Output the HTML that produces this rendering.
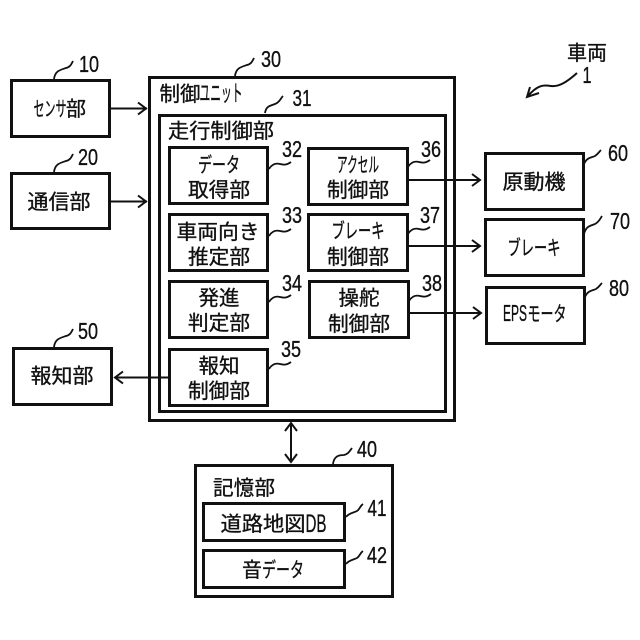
<!DOCTYPE html>
<html><head><meta charset="utf-8"><style>
html,body{margin:0;padding:0;background:#fff;width:640px;height:640px;overflow:hidden}
svg{display:block}
text{font-family:"Liberation Sans","Noto Sans CJK JP",sans-serif;fill:#111;stroke:#111;stroke-width:.35px}
.t{font-size:20.5px;text-anchor:middle}
.n{font-size:23px;text-anchor:middle}
rect{fill:none;stroke:#111;stroke-width:3}
.c{fill:none;stroke:#111;stroke-width:1.8}
.a{fill:none;stroke:#111;stroke-width:2}
</style></head><body>
<svg width="640" height="640" viewBox="0 0 640 640" xmlns="http://www.w3.org/2000/svg">
<rect x="11.5" y="80.5" width="98" height="56"/>
<rect x="11.5" y="173.5" width="98" height="55"/>
<rect x="149.500" y="77.500" width="305" height="343"/>
<rect x="159.500" y="115.500" width="286" height="296"/>
<rect x="169.500" y="147.500" width="98" height="56"/>
<rect x="169.500" y="214.500" width="98" height="56"/>
<rect x="169.500" y="281.500" width="98" height="56"/>
<rect x="169.500" y="349.500" width="98" height="56"/>
<rect x="308.500" y="148.500" width="99" height="56"/>
<rect x="308.500" y="214.500" width="99" height="56"/>
<rect x="309.500" y="281.500" width="99" height="56"/>
<rect x="485.500" y="153.500" width="98" height="56"/>
<rect x="485.500" y="219.500" width="98" height="56"/>
<rect x="486.500" y="287.500" width="98" height="56"/>
<rect x="13.500" y="348.500" width="98" height="56"/>
<rect x="195.500" y="465.500" width="197" height="131"/>
<rect x="203.500" y="503.500" width="141" height="37"/>
<rect x="203.500" y="550.500" width="141" height="37"/>

<g class="a">
<path d="M110 108.500H147M138 102.500l8 6-8 6"/>
<path d="M110 201.500H147M138 195.500l8 6-8 6"/>
<path d="M407 180H480M472 174l8 6-8 6"/>
<path d="M407 246H480M472 240l8 6-8 6"/>
<path d="M409 313H481M473 307l8 6-8 6"/>
<path d="M168 377.500H115M123 371.500l-8 6 8 6"/>
<path d="M291 424V460M285 431l6-8 6 8M285 454l6 8 6-8"/>
<path d="M577 73C567 82 559 87 551 86C544 85 538 84 527 97M530 87L527 97L539 93"/>
</g>

<g class="c">
<path d="M54 79c1-8 6-9 12-11c4-1 5-3 7-7"/>
<path d="M54 172c1-8 6-9 12-11c4-1 5-3 7-7"/>
<path d="M235 76c1-8 6-9 12-11c4-1 5-3 7-7"/>
<path d="M265 113c1-7 5-7 10-9c5-2 5-5 8-8"/>
<path d="M269 169c3-5 7-6 11-5c4 1 7 1 11-2"/>
<path d="M269 236c3-5 7-6 11-5c4 1 7 1 11-2"/>
<path d="M269 302c3-5 7-6 11-5c4 1 7 1 11-2"/>
<path d="M269 369c3-5 7-6 11-5c4 1 7 1 11-2"/>
<path d="M408 167c3-5 7-6 11-5c4 1 7 1 11-2"/>
<path d="M408 234c3-5 7-6 11-5c4 1 7 1 11-2"/>
<path d="M409 301c3-5 7-6 11-5c4 1 7 1 11-2"/>
<path d="M584 164c3-7 7-6 11-8c3-2 4-4 6-6"/>
<path d="M584 234c2-8 6-8 11-10c4-2 5-5 7-8"/>
<path d="M585 297c3-7 7-6 11-8c3-2 4-4 6-6"/>
<path d="M54 347c1-8 6-9 12-11c4-1 5-3 7-7"/>
<path d="M333 464c1-8 6-9 11-9c4-1 5-3 8-7"/>
<path d="M346 517c3-4 7-4 11-6c3-2 3-5 6-7"/>
<path d="M346 564c3-4 7-4 11-6c3-2 3-5 6-7"/>
</g>

<g class="n">
<text x="89" y="72" textLength="20" lengthAdjust="spacingAndGlyphs">10</text>
<text x="88" y="165" textLength="20" lengthAdjust="spacingAndGlyphs">20</text>
<text x="271" y="67" textLength="20" lengthAdjust="spacingAndGlyphs">30</text>
<text x="302" y="106" textLength="19" lengthAdjust="spacingAndGlyphs">31</text>
<text x="292" y="157" textLength="20" lengthAdjust="spacingAndGlyphs">32</text>
<text x="292" y="223" textLength="20" lengthAdjust="spacingAndGlyphs">33</text>
<text x="292" y="291" textLength="20" lengthAdjust="spacingAndGlyphs">34</text>
<text x="291" y="357" textLength="20" lengthAdjust="spacingAndGlyphs">35</text>
<text x="431" y="157" textLength="20" lengthAdjust="spacingAndGlyphs">36</text>
<text x="430" y="223" textLength="20" lengthAdjust="spacingAndGlyphs">37</text>
<text x="432" y="291" textLength="20" lengthAdjust="spacingAndGlyphs">38</text>
<text x="618" y="161" textLength="20" lengthAdjust="spacingAndGlyphs">60</text>
<text x="620" y="229" textLength="20" lengthAdjust="spacingAndGlyphs">70</text>
<text x="619" y="296" textLength="20" lengthAdjust="spacingAndGlyphs">80</text>
<text x="88" y="339" textLength="20" lengthAdjust="spacingAndGlyphs">50</text>
<text x="367" y="457" textLength="20" lengthAdjust="spacingAndGlyphs">40</text>
<text x="377" y="516" textLength="19" lengthAdjust="spacingAndGlyphs">41</text>
<text x="377" y="563" textLength="20" lengthAdjust="spacingAndGlyphs">42</text>
<text x="587" y="83" textLength="9" lengthAdjust="spacingAndGlyphs">1</text>
</g>

<g class="t">
<text x="587" y="60" textLength="40" lengthAdjust="spacingAndGlyphs">車両</text>
<text x="50" y="116" textLength="33" lengthAdjust="spacingAndGlyphs">センサ</text>
<text x="76" y="116" textLength="20" lengthAdjust="spacingAndGlyphs">部</text>
<text x="59" y="209" textLength="63" lengthAdjust="spacingAndGlyphs">通信部</text>
<text x="180" y="101" textLength="41" lengthAdjust="spacingAndGlyphs">制御</text>
<text x="221" y="101" textLength="43" lengthAdjust="spacingAndGlyphs" font-size="23">ユニット</text>
<text x="221" y="138" textLength="106" lengthAdjust="spacingAndGlyphs">走行制御部</text>
<text x="219" y="172" textLength="42" lengthAdjust="spacingAndGlyphs">データ</text>
<text x="219" y="197" textLength="62" lengthAdjust="spacingAndGlyphs">取得部</text>
<text x="218" y="239" textLength="83" lengthAdjust="spacingAndGlyphs">車両向き</text>
<text x="219" y="264" textLength="62" lengthAdjust="spacingAndGlyphs">推定部</text>
<text x="219" y="305" textLength="41" lengthAdjust="spacingAndGlyphs">発進</text>
<text x="219" y="330" textLength="62" lengthAdjust="spacingAndGlyphs">判定部</text>
<text x="219" y="373" textLength="41" lengthAdjust="spacingAndGlyphs">報知</text>
<text x="219" y="398" textLength="62" lengthAdjust="spacingAndGlyphs">制御部</text>
<text x="358" y="172" textLength="42" lengthAdjust="spacingAndGlyphs">アクセル</text>
<text x="358" y="197" textLength="62" lengthAdjust="spacingAndGlyphs">制御部</text>
<text x="358" y="238" textLength="53" lengthAdjust="spacingAndGlyphs">ブレーキ</text>
<text x="358" y="264" textLength="62" lengthAdjust="spacingAndGlyphs">制御部</text>
<text x="359" y="305" textLength="41" lengthAdjust="spacingAndGlyphs">操舵</text>
<text x="359" y="331" textLength="62" lengthAdjust="spacingAndGlyphs">制御部</text>
<text x="534" y="189" textLength="63" lengthAdjust="spacingAndGlyphs">原動機</text>
<text x="534" y="255" textLength="53" lengthAdjust="spacingAndGlyphs">ブレーキ</text>
<text x="515" y="321" textLength="24" lengthAdjust="spacingAndGlyphs" font-size="23" style="font-size:23px">EPS</text>
<text x="547" y="321" textLength="39" lengthAdjust="spacingAndGlyphs">モータ</text>
<text x="62" y="383" textLength="63" lengthAdjust="spacingAndGlyphs">報知部</text>
<text x="244" y="495" textLength="62" lengthAdjust="spacingAndGlyphs">記憶部</text>
<text x="263" y="531" textLength="85" lengthAdjust="spacingAndGlyphs">道路地図</text>
<text x="316" y="532" textLength="21" lengthAdjust="spacingAndGlyphs" style="font-size:25px">DB</text>
<text x="252" y="577" textLength="20" lengthAdjust="spacingAndGlyphs">音</text>
<text x="283" y="577" textLength="42" lengthAdjust="spacingAndGlyphs">データ</text>
</g>
</svg>
</body></html>
